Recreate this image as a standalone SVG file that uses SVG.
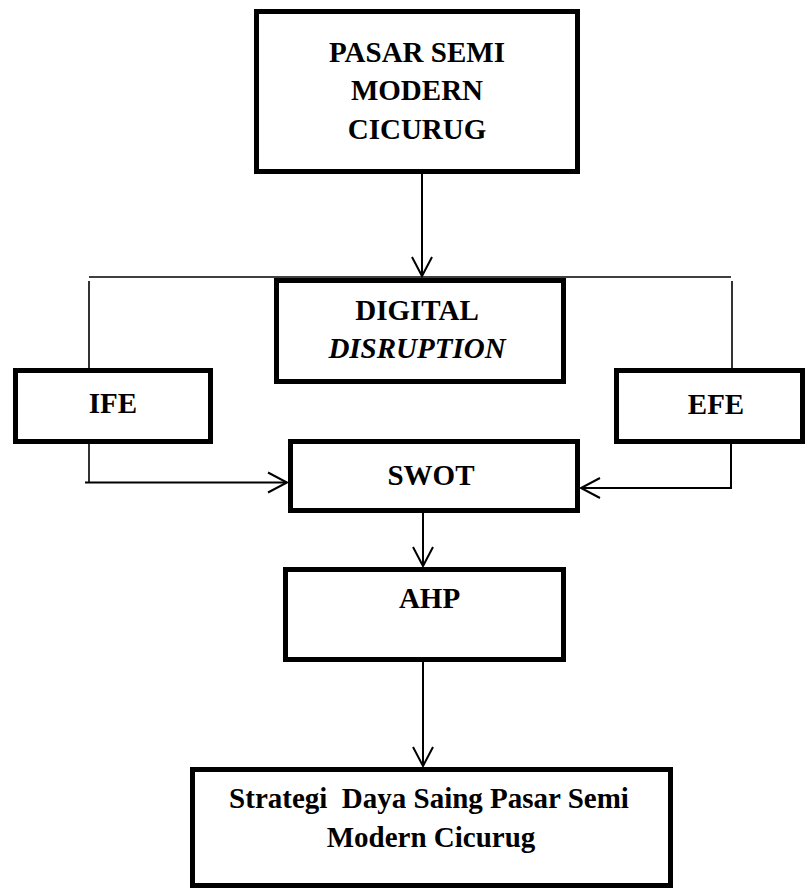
<svg xmlns="http://www.w3.org/2000/svg" width="806" height="888" viewBox="0 0 806 888">
  <style>
    .box { fill: #fff; stroke: #000; stroke-width: 5; }
    .lbl { font-family: "Liberation Serif", "Times New Roman", serif; font-weight: bold; font-size: 29px; fill: #000; text-anchor: middle; }
    .it { font-style: italic; }
    .wire { fill: none; stroke: #000; stroke-width: 2; }
    .thin { fill: none; stroke: #000; stroke-width: 1.6; }
  </style>
  <defs>
    <marker id="arr" markerUnits="userSpaceOnUse" markerWidth="26" markerHeight="26" viewBox="-22 -13 26 26" refX="0" refY="0" orient="auto" overflow="visible">
      <path d="M-19,-10 L0,0 L-19,10" fill="none" stroke="#000" stroke-width="2"/>
    </marker>
  </defs>
  <rect width="806" height="888" fill="#fff"/>

  <g id="connectors">
    <path class="wire" d="M422,174 V276" marker-end="url(#arr)"/>
    <path class="thin" d="M89,277 H731"/>
    <path class="thin" d="M89,281 V369"/>
    <path class="thin" d="M732,281 V369"/>
    <path class="thin" d="M89,444 V482"/>
    <path class="wire" d="M85,482.5 H287" marker-end="url(#arr)"/>
    <path class="wire" d="M731,444 V488 H581" marker-end="url(#arr)"/>
    <path class="wire" d="M423,513 V566" marker-end="url(#arr)"/>
    <path class="wire" d="M423,662 V766" marker-end="url(#arr)"/>
  </g>

  <g id="pasar">
    <rect class="box" x="256.5" y="11.5" width="321" height="160"/>
    <text class="lbl" x="417" y="62">PASAR SEMI</text>
    <text class="lbl" x="417" y="100">MODERN</text>
    <text class="lbl" x="417" y="139">CICURUG</text>
  </g>

  <g id="digital">
    <rect class="box" x="276.5" y="280.5" width="287" height="101"/>
    <text class="lbl" x="417" y="320">DIGITAL</text>
    <text class="lbl it" x="417" y="358">DISRUPTION</text>
  </g>

  <g id="ife">
    <rect class="box" x="15.5" y="370.5" width="195" height="71"/>
    <text class="lbl" x="113" y="413">IFE</text>
  </g>

  <g id="efe">
    <rect class="box" x="616.5" y="370.5" width="186" height="71"/>
    <text class="lbl" x="716" y="414">EFE</text>
  </g>

  <g id="swot">
    <rect class="box" x="290.5" y="441.5" width="287" height="69"/>
    <text class="lbl" x="431" y="485">SWOT</text>
  </g>

  <g id="ahp">
    <rect class="box" x="285.5" y="569.5" width="278" height="90"/>
    <text class="lbl" x="429.5" y="608">AHP</text>
  </g>

  <g id="strategi">
    <rect class="box" x="192.5" y="769.5" width="478" height="116"/>
    <text class="lbl" x="429" y="808" xml:space="preserve">Strategi  Daya Saing Pasar Semi</text>
    <text class="lbl" x="431" y="847">Modern Cicurug</text>
  </g>
</svg>
